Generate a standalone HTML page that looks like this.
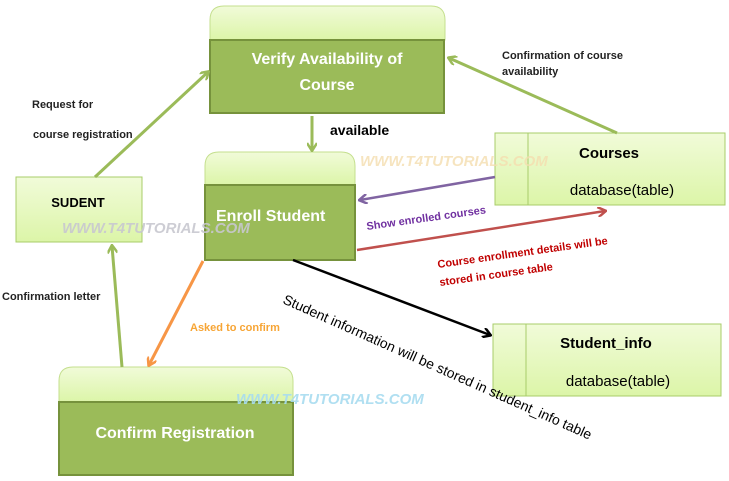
<!DOCTYPE html>
<html><head><style>body{margin:0;background:#fff}svg{display:block}text{font-family:"Liberation Sans",sans-serif}</style></head><body>
<svg width="729" height="481" viewBox="0 0 729 481">
<defs>
<linearGradient id="lg" x1="0" y1="0" x2="0" y2="1"><stop offset="0" stop-color="#f1fbd9"/><stop offset="1" stop-color="#dcf5a8"/></linearGradient>
<marker id="mg" markerWidth="10" markerHeight="10" refX="8" refY="5" orient="auto" markerUnits="userSpaceOnUse"><path d="M1,0 L9,5 L1,10" fill="none" stroke="#9bbb59" stroke-width="2.5"/></marker>
<marker id="mp" markerWidth="10" markerHeight="10" refX="8" refY="5" orient="auto" markerUnits="userSpaceOnUse"><path d="M1,0 L9,5 L1,10" fill="none" stroke="#8064a2" stroke-width="2.5"/></marker>
<marker id="mr" markerWidth="10" markerHeight="10" refX="8" refY="5" orient="auto" markerUnits="userSpaceOnUse"><path d="M1,0 L9,5 L1,10" fill="none" stroke="#c0504d" stroke-width="2.5"/></marker>
<marker id="mk" markerWidth="10" markerHeight="10" refX="8" refY="5" orient="auto" markerUnits="userSpaceOnUse"><path d="M1,0 L9,5 L1,10" fill="none" stroke="#000" stroke-width="2.5"/></marker>
<marker id="mo" markerWidth="10" markerHeight="10" refX="8" refY="5" orient="auto" markerUnits="userSpaceOnUse"><path d="M1,0 L9,5 L1,10" fill="none" stroke="#f79646" stroke-width="2.5"/></marker>
</defs>
<path d="M210,40 V20 Q210,6 224,6 H431 Q445,6 445,20 V40 Z" fill="url(#lg)" stroke="#c4df8e"/>
<rect x="210" y="40" width="234" height="73" fill="#9bbb59" stroke="#76923c" stroke-width="2"/>
<text x="327" y="64" fill="#fff" font-size="16" font-weight="bold" text-anchor="middle">Verify Availability of</text>
<text x="327" y="90" fill="#fff" font-size="16" font-weight="bold" text-anchor="middle">Course</text>
<path d="M205,185 V166 Q205,152 219,152 H341 Q355,152 355,166 V185 Z" fill="url(#lg)" stroke="#c4df8e"/>
<rect x="205" y="185" width="150" height="75" fill="#9bbb59" stroke="#76923c" stroke-width="2"/>
<text x="216" y="221" fill="#fff" font-size="16" font-weight="bold">Enroll Student</text>
<path d="M59,402 V381 Q59,367 73,367 H279 Q293,367 293,381 V402 Z" fill="url(#lg)" stroke="#c4df8e"/>
<rect x="59" y="402" width="234" height="73" fill="#9bbb59" stroke="#76923c" stroke-width="2"/>
<text x="175" y="438" fill="#fff" font-size="16" font-weight="bold" text-anchor="middle">Confirm Registration</text>
<rect x="16" y="177" width="126" height="65" fill="url(#lg)" stroke="#a8cc6a"/>
<text x="78" y="207" font-size="13" font-weight="bold" text-anchor="middle">SUDENT</text>
<rect x="495" y="133" width="230" height="72" fill="url(#lg)" stroke="#a8cc6a"/>
<line x1="528" y1="133" x2="528" y2="205" stroke="#a8cc6a"/>
<text x="609" y="158" font-size="15" font-weight="bold" text-anchor="middle">Courses</text>
<text x="622" y="195" font-size="15" text-anchor="middle">database(table)</text>
<rect x="493" y="324" width="228" height="72" fill="url(#lg)" stroke="#a8cc6a"/>
<line x1="526" y1="324" x2="526" y2="396" stroke="#a8cc6a"/>
<text x="606" y="348" font-size="15" font-weight="bold" text-anchor="middle">Student_info</text>
<text x="618" y="386" font-size="15" text-anchor="middle">database(table)</text>
<line x1="95" y1="177" x2="208" y2="72" stroke="#9bbb59" stroke-width="3" marker-end="url(#mg)"/>
<line x1="617" y1="133" x2="449" y2="58" stroke="#9bbb59" stroke-width="3" marker-end="url(#mg)"/>
<line x1="312" y1="116" x2="312" y2="150" stroke="#9bbb59" stroke-width="3" marker-end="url(#mg)"/>
<line x1="495" y1="177" x2="360" y2="200" stroke="#8064a2" stroke-width="2.5" marker-end="url(#mp)"/>
<line x1="357" y1="250" x2="605" y2="211" stroke="#c0504d" stroke-width="2.5" marker-end="url(#mr)"/>
<line x1="293" y1="260" x2="490" y2="335" stroke="#000" stroke-width="2.5" marker-end="url(#mk)"/>
<line x1="203" y1="261" x2="149" y2="365" stroke="#f79646" stroke-width="3" marker-end="url(#mo)"/>
<line x1="122" y1="367" x2="112" y2="246" stroke="#9bbb59" stroke-width="3" marker-end="url(#mg)"/>
<text x="330" y="135" font-size="14" font-weight="bold">available</text>
<text x="32" y="108" font-size="11" font-weight="bold" fill="#222">Request for</text>
<text x="33" y="138" font-size="11" font-weight="bold" fill="#222">course  registration</text>
<text x="502" y="59" font-size="11" font-weight="bold" fill="#222">Confirmation of course</text>
<text x="502" y="75" font-size="11" font-weight="bold" fill="#222">availability</text>
<text x="2" y="300" font-size="11" font-weight="bold" fill="#222">Confirmation letter</text>
<text x="190" y="331" font-size="11" font-weight="bold" fill="#f7a535">Asked to confirm</text>
<text x="367" y="230" font-size="11" font-weight="bold" fill="#7030a0" transform="rotate(-8 367 230)">Show enrolled courses</text>
<text x="438" y="268" font-size="11" font-weight="bold" fill="#c00000" transform="rotate(-8 438 268)">Course enrollment details will be</text>
<text x="440" y="286" font-size="11" font-weight="bold" fill="#c00000" transform="rotate(-8 440 286)">stored in course table</text>
<text x="282" y="303" font-size="14" fill="#000" transform="rotate(24 282 303)">Student information will be stored in student_info table</text>
<text x="360" y="166" font-size="15" font-weight="bold" font-style="italic" fill="#f5deb0" opacity="0.8">WWW.T4TUTORIALS.COM</text>
<text x="62" y="233" font-size="15" font-weight="bold" font-style="italic" fill="#c8c8d0" opacity="0.9">WWW.T4TUTORIALS.COM</text>
<text x="236" y="404" font-size="15" font-weight="bold" font-style="italic" fill="#a8dcf0" opacity="0.9">WWW.T4TUTORIALS.COM</text>
</svg>
</body></html>
